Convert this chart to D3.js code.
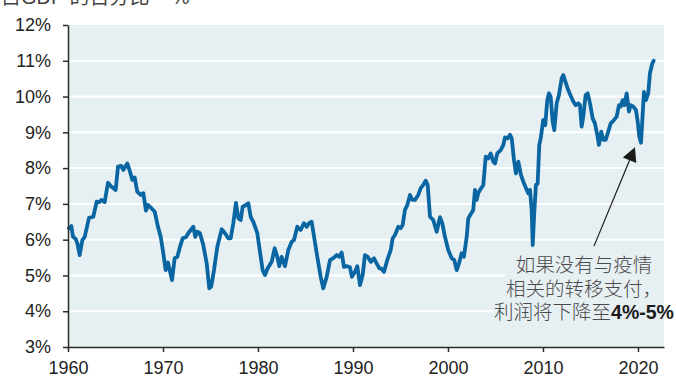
<!DOCTYPE html>
<html>
<head>
<meta charset="utf-8">
<script src="https://cdn.jsdelivr.net/npm/d3@7"></script>
<style>
  html, body { margin: 0; padding: 0; background: #ffffff; }
  svg { display: block; }
</style>
</head>
<body>
<div id="chart"></div>
<script>
// ---------- data ----------
const titleText = "占GDP 的百分比 – %";
const yTicks = [3, 4, 5, 6, 7, 8, 9, 10, 11, 12];
const xTicks = [1960, 1970, 1980, 1990, 2000, 2010, 2020];
const years = [
  1960.11, 1960.35, 1960.53, 1960.81, 1960.98, 1961.23, 1961.51, 1961.76, 1962.21, 1962.66,
  1963.02, 1963.29, 1963.51, 1963.86, 1964.21, 1964.49, 1965.02, 1965.26, 1965.61, 1965.82,
  1966.24, 1966.53, 1966.77, 1967.02, 1967.29, 1967.65, 1967.93, 1968.21, 1968.42, 1968.77,
  1969.13, 1969.47, 1969.76, 1970.03, 1970.28, 1970.53, 1970.95, 1971.23, 1971.51, 1971.79,
  1972.07, 1972.42, 1972.66, 1972.92, 1973.19, 1973.40, 1973.61, 1973.89, 1974.24, 1974.60,
  1974.87, 1975.08, 1975.37, 1975.72, 1976.18, 1976.53, 1976.87, 1977.13, 1977.40, 1977.68,
  1977.93, 1978.18, 1978.39, 1978.74, 1978.98, 1979.23, 1979.51, 1979.93, 1980.21, 1980.49,
  1980.74, 1981.02, 1981.44, 1981.76, 1982.03, 1982.24, 1982.49, 1982.84, 1983.19, 1983.55,
  1983.79, 1984.14, 1984.49, 1984.84, 1985.13, 1985.37, 1985.65, 1985.82, 1986.18, 1986.60,
  1986.87, 1987.23, 1987.58, 1988.00, 1988.28, 1988.53, 1988.81, 1989.05, 1989.40, 1989.68,
  1989.89, 1990.21, 1990.45, 1990.74, 1991.02, 1991.26, 1991.55, 1991.89, 1992.21, 1992.49,
  1992.77, 1992.95, 1993.26, 1993.61, 1993.97, 1994.18, 1994.42, 1994.77, 1995.02, 1995.23,
  1995.47, 1995.72, 1996.00, 1996.24, 1996.53, 1996.87, 1997.13, 1997.40, 1997.65, 1997.86,
  1998.11, 1998.45, 1998.81, 1999.16, 1999.40, 1999.68, 2000.03, 2000.39, 2000.66, 2000.92,
  2001.16, 2001.44, 2001.68, 2001.97, 2002.14, 2002.66, 2002.84, 2003.02, 2003.19, 2003.37,
  2003.72, 2003.97, 2004.24, 2004.49, 2004.77, 2004.95, 2005.19, 2005.55, 2005.82, 2006.00,
  2006.28, 2006.53, 2006.71, 2006.95, 2007.16, 2007.40, 2007.68, 2007.93, 2008.21, 2008.45,
  2008.63, 2008.81, 2008.92, 2009.08, 2009.26, 2009.44, 2009.61, 2009.76, 2010.03, 2010.24,
  2010.45, 2010.63, 2010.81, 2011.02, 2011.19, 2011.44, 2011.68, 2011.97, 2012.14, 2012.42,
  2012.66, 2012.95, 2013.19, 2013.44, 2013.72, 2013.89, 2014.07, 2014.24, 2014.49, 2014.71,
  2014.95, 2015.23, 2015.47, 2015.72, 2015.89, 2016.14, 2016.35, 2016.60, 2016.87, 2017.13,
  2017.40, 2017.76, 2018.00, 2018.18, 2018.39, 2018.56, 2018.81, 2019.05, 2019.23, 2019.51,
  2019.79, 2019.97, 2020.14, 2020.32, 2020.45, 2020.63, 2020.84, 2021.08, 2021.26, 2021.51,
  2021.65
];
const profitShare = [
  6.32, 6.38, 6.08, 6.02, 5.90, 5.57, 5.99, 6.08, 6.61, 6.64,
  7.06, 7.05, 7.11, 7.05, 7.59, 7.50, 7.39, 8.04, 8.06, 7.95,
  8.13, 7.90, 7.67, 7.74, 7.34, 7.25, 7.30, 6.81, 6.97, 6.88,
  6.78, 6.36, 6.08, 5.62, 5.15, 5.36, 4.87, 5.48, 5.52, 5.80,
  6.04, 6.07, 6.18, 6.27, 6.36, 6.08, 6.22, 6.18, 5.85, 5.34,
  4.64, 4.69, 5.15, 5.80, 6.29, 6.18, 6.04, 6.04, 6.46, 7.03,
  6.60, 6.55, 6.92, 6.97, 7.02, 6.64, 6.50, 6.18, 5.66, 5.15,
  5.01, 5.20, 5.38, 5.76, 5.52, 5.26, 5.52, 5.26, 5.71, 5.94,
  5.99, 6.36, 6.27, 6.46, 6.36, 6.46, 6.50, 6.22, 5.62, 4.96,
  4.64, 4.96, 5.43, 5.50, 5.57, 5.52, 5.64, 5.24, 5.26, 5.23,
  4.96, 5.10, 5.26, 4.73, 5.01, 5.57, 5.52, 5.38, 5.48, 5.34,
  5.20, 5.20, 5.10, 5.43, 5.71, 6.04, 6.13, 6.36, 6.32, 6.41,
  6.83, 6.97, 7.25, 7.11, 7.11, 7.25, 7.44, 7.53, 7.65, 7.53,
  6.64, 6.55, 6.22, 6.63, 6.46, 6.08, 5.71, 5.48, 5.43, 5.15,
  5.34, 5.62, 5.52, 6.08, 6.60, 6.83, 7.39, 7.11, 7.30, 7.39,
  7.53, 8.32, 8.27, 8.41, 8.18, 8.13, 8.41, 8.50, 8.64, 8.86,
  8.83, 8.93, 8.83, 8.22, 7.85, 8.18, 7.81, 7.62, 7.44, 7.30,
  7.39, 6.83, 5.85, 6.74, 7.53, 7.57, 8.64, 8.83, 9.35, 9.20,
  9.90, 10.09, 10.00, 9.30, 9.06, 9.81, 10.04, 10.51, 10.60, 10.37,
  10.18, 10.00, 9.86, 9.76, 9.81, 9.76, 9.16, 9.44, 10.04, 10.09,
  9.81, 9.39, 9.25, 8.93, 8.65, 9.02, 8.79, 8.79, 9.02, 9.25,
  9.32, 9.44, 9.76, 9.72, 9.90, 9.76, 10.09, 9.58, 9.76, 9.72,
  9.62, 9.30, 8.88, 8.71, 9.30, 10.13, 9.90, 10.09, 10.65, 10.93,
  11.00
];
const noteLines = ["如果没有与疫情", "相关的转移支付，", "利润将下降至"];
const noteBold = "4%-5%";
const arrowFrom = [2015.37, 5.82];
const arrowTo = [2019.68, 8.58];

// ---------- layout ----------
const W = 676, H = 382;
const m = { left: 68, right: 12, top: 25, bottom: 35 };
const plotBg = "#e6eff2";
const lineColor = "#0a66a2";
const axisColor = "#2b2b2b";
const textColor = "#222222";

const svg = d3.select("#chart").append("svg")
  .attr("width", W).attr("height", H);

const x = d3.scaleLinear().domain([1960, 2022.74]).range([m.left, W - m.right]);
const y = d3.scaleLinear().domain([3, 12]).range([H - m.bottom, m.top]);

// title (cut off at the top)
svg.append("text")
  .attr("x", 1).attr("y", 4)
  .attr("font-family", "'Liberation Sans', Arial, 'Noto Sans CJK SC', sans-serif")
  .attr("font-size", 20)
  .attr("fill", "#444")
  .text(titleText);

// plot background
svg.append("rect")
  .attr("x", x.range()[0]).attr("y", y(12))
  .attr("width", x.range()[1] - x.range()[0])
  .attr("height", y(3) - y(12))
  .attr("fill", plotBg);

// gridlines
svg.append("g")
  .selectAll("line")
  .data(yTicks.filter(d => d > 3 && d < 12))
  .join("line")
  .attr("x1", x.range()[0]).attr("x2", x.range()[1])
  .attr("y1", d => y(d)).attr("y2", d => y(d))
  .attr("stroke", "#ffffff").attr("stroke-width", 2);

// annotation text with background boxes
const noteG = svg.append("g");
const noteX = 584, noteY0 = 272, noteDy = 23.5;
const fontCJK = "'Noto Sans CJK SC', 'Liberation Sans', sans-serif";
noteLines.forEach((t, i) => {
  const txt = noteG.append("text")
    .attr("x", noteX).attr("y", noteY0 + i * noteDy)
    .attr("text-anchor", "middle")
    .attr("font-family", fontCJK)
    .attr("font-size", 19.5)
    .attr("font-weight", 300)
    .attr("fill", "#4a4a4a");
  txt.append("tspan").text(t);
  if (i === noteLines.length - 1) {
    txt.append("tspan")
      .attr("font-family", "'Liberation Sans', Arial, sans-serif")
      .attr("font-weight", "bold")
      .attr("fill", "#1a1a1a")
      .text(noteBold);
  }
  const bb = txt.node().getBBox();
  noteG.insert("rect", "text")
    .attr("x", bb.x - 1).attr("y", bb.y + 2)
    .attr("width", Math.min(bb.width + 2, x.range()[1] - bb.x + 1))
    .attr("height", bb.height - 3)
    .attr("fill", plotBg);
});

// series line
const line = d3.line()
  .x((d, i) => x(years[i]))
  .y(d => y(d))
  .curve(d3.curveLinear);

svg.append("path")
  .datum(profitShare)
  .attr("d", line)
  .attr("fill", "none")
  .attr("stroke", lineColor)
  .attr("stroke-width", 3.8)
  .attr("stroke-linejoin", "round")
  .attr("stroke-linecap", "round");

// arrow
const ax0 = x(arrowFrom[0]), ay0 = y(arrowFrom[1]);
const ax1 = x(arrowTo[0]), ay1 = y(arrowTo[1]);
const ang = Math.atan2(ay1 - ay0, ax1 - ax0);
const headLen = 14, headHalf = 7.3;
const bx = ax1 - headLen * Math.cos(ang), by = ay1 - headLen * Math.sin(ang);
svg.append("line")
  .attr("x1", ax0).attr("y1", ay0).attr("x2", bx).attr("y2", by)
  .attr("stroke", "#1a1a1a").attr("stroke-width", 1.2);
svg.append("path")
  .attr("d", `M${ax1},${ay1} L${bx + headHalf * Math.sin(ang)},${by - headHalf * Math.cos(ang)} L${bx - headHalf * Math.sin(ang)},${by + headHalf * Math.cos(ang)} Z`)
  .attr("fill", "#1a1a1a");

// axes
const yAxis = d3.axisLeft(y).tickValues(yTicks).tickFormat(d => d + "%").tickSize(5).tickSizeOuter(0);
const gy = svg.append("g")
  .attr("transform", `translate(${m.left},0)`)
  .call(yAxis);
gy.select(".domain").attr("stroke", axisColor).attr("stroke-width", 1.5);
gy.selectAll(".tick line").attr("stroke", axisColor).attr("stroke-width", 1.5);
gy.selectAll(".tick text")
  .attr("x", -17)
  .attr("font-family", "'Liberation Sans', Arial, sans-serif")
  .attr("font-size", 18)
  .attr("fill", textColor);

const xAxis = d3.axisBottom(x).tickValues(xTicks).tickFormat(d3.format("d")).tickSize(5).tickSizeOuter(0);
const gx = svg.append("g")
  .attr("transform", `translate(0,${H - m.bottom})`)
  .call(xAxis);
gx.select(".domain").attr("stroke", axisColor).attr("stroke-width", 1.5);
gx.selectAll(".tick line").attr("stroke", axisColor).attr("stroke-width", 1.5);
gx.selectAll(".tick text")
  .attr("y", 14)
  .attr("font-family", "'Liberation Sans', Arial, sans-serif")
  .attr("font-size", 18)
  .attr("fill", textColor);
</script>
</body>
</html>
